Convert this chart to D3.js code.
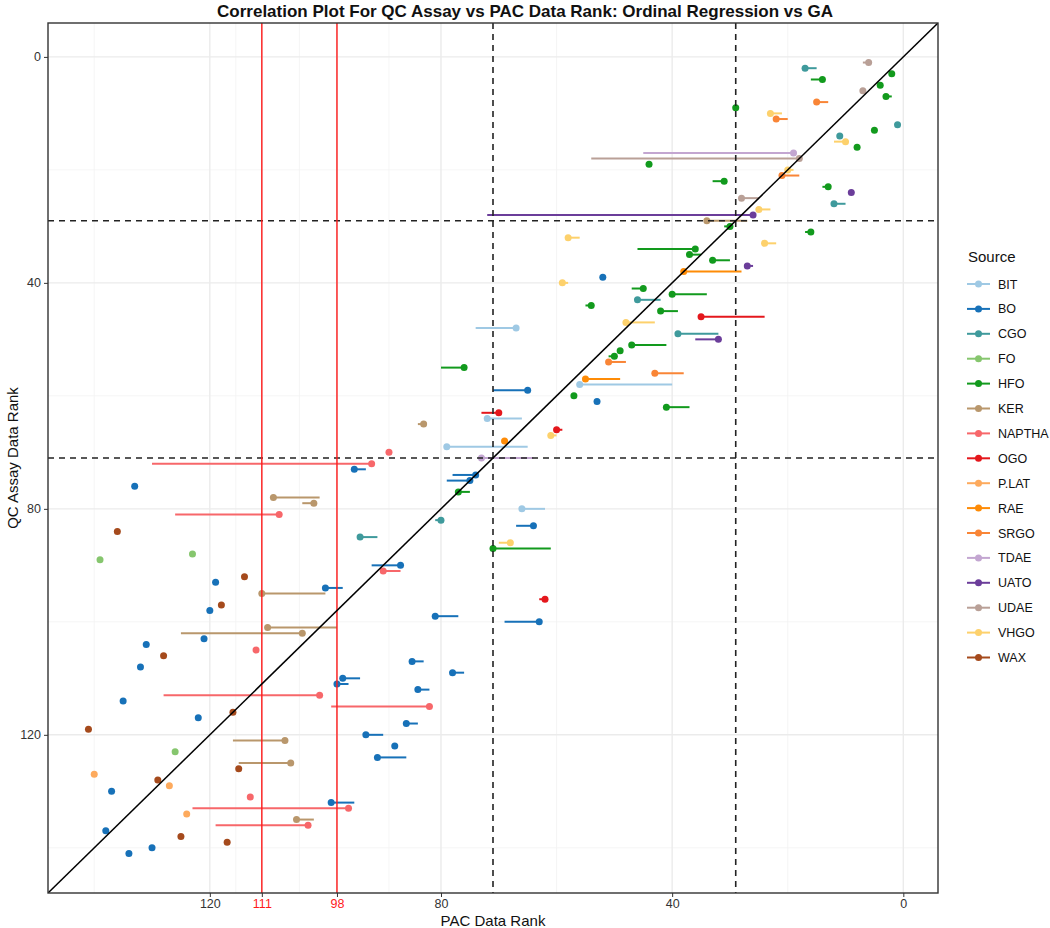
<!DOCTYPE html>
<html><head><meta charset="utf-8">
<script src="https://cdn.jsdelivr.net/npm/d3@7"></script>
<style>body{margin:0;background:#fff}svg{display:block}text{font-family:"Liberation Sans",Arial,sans-serif}</style>
</head><body><svg id="c" width="1050" height="928"></svg>
<script>
const sources = ["BIT","BO","CGO","FO","HFO","KER","NAPTHA","OGO","P.LAT","RAE","SRGO","TDAE","UATO","UDAE","VHGO","WAX"];
const sourceColors = ["#9fc9e4","#1771b8","#3f9a9c","#86c66e","#129a1d","#b9976c","#f7676a","#e4171c","#fdaa5d","#fe8b06","#f98536","#c3a6d1","#6b3d9a","#b9a097","#fdd16c","#a54a1c"];
// QC assay rank (y), PAC rank of the point (x), PAC rank at the other end of the segment
const qcRank   = [1,2,3,4,5,6,7,8,9,10,11,12,13,14,15,16,17,18,19,20,21,22,23,24,25,26,27,28,29,30,31,32,33,34,35,36,37,38,39,40,41,42,43,44,45,46,47,48,49,50,51,52,53,54,55,56,57,58,59,60,61,62,63,64,65,66,67,68,69,70,71,72,73,74,75,76,77,78,79,80,81,82,83,84,85,86,87,88,89,90,91,92,93,94,95,96,97,98,99,100,101,102,103,104,105,106,107,108,109,110,111,112,113,114,115,116,117,118,119,120,121,122,123,124,125,126,127,128,129,130,131,132,133,134,135,136,137,138,139,140,141];
const pointSource = ["UDAE","CGO","HFO","HFO","HFO","UDAE","HFO","SRGO","HFO","VHGO","SRGO","CGO","HFO","CGO","VHGO","HFO","TDAE","UDAE","HFO","VHGO","SRGO","HFO","HFO","UATO","UDAE","CGO","VHGO","UATO","KER","HFO","HFO","VHGO","VHGO","HFO","HFO","HFO","UATO","RAE","BO","VHGO","HFO","HFO","CGO","HFO","HFO","OGO","VHGO","BIT","CGO","UATO","HFO","HFO","HFO","SRGO","HFO","SRGO","RAE","BIT","BO","HFO","BO","HFO","OGO","BIT","KER","OGO","VHGO","RAE","BIT","NAPTHA","TDAE","NAPTHA","BO","BO","BO","BO","HFO","KER","KER","BIT","NAPTHA","CGO","BO","WAX","CGO","VHGO","HFO","FO","FO","BO","NAPTHA","WAX","BO","BO","KER","OGO","WAX","BO","BO","BO","KER","KER","BO","BO","NAPTHA","WAX","BO","BO","BO","BO","BO","BO","NAPTHA","BO","NAPTHA","WAX","BO","BO","WAX","BO","KER","BO","FO","BO","KER","WAX","P.LAT","WAX","P.LAT","BO","NAPTHA","BO","NAPTHA","P.LAT","KER","NAPTHA","BO","WAX","WAX","BO","BO"];
const pacRank  = [6,17,2,14,4,7,3,15,29,23,22,1,5,11,10,8,19,18,44,20,21,31,13,9,28,12,25,26,34,30,16,58,24,36,37,33,27,38,52,59,45,40,46,54,42,35,48,67,39,32,47,49,50,51,76,43,55,56,65,57,53,41,70,72,83,60,61,69,79,89,73,92,95,74,75,133,77,109,102,66,108,80,64,136,94,68,71,123,139,87,90,114,119,100,111,62,118,120,81,63,110,104,121,131,112,128,85,132,78,97,98,84,101,135,82,116,122,86,141,93,107,88,126,91,106,115,140,129,127,137,113,99,96,124,105,103,138,125,117,130,134];
const pacRankEnd = [7,15,2,16,4,7,2,13,29,21,20,1,5,11,12,8,45,54,44,19,18,33,14,9,25,10,23,72,27,31,17,56,22,46,35,30,26,28,52,58,47,34,42,55,39,24,43,74,32,36,41,49,51,48,80,38,49,40,71,57,53,37,73,66,84,59,60,69,65,89,64,130,93,78,79,133,75,101,104,62,126,81,67,136,91,70,61,123,139,92,87,114,119,97,100,63,118,120,77,69,98,125,121,131,112,128,83,132,76,94,96,82,128,135,99,116,122,84,141,90,116,88,126,86,115,115,140,129,127,137,113,95,123,124,102,119,138,125,117,130,134];
const xBreaks = [0,40,80,98,111,120];
const xMinor = [20,60,89,104.5,115.5,140];
const yBreaks = [0,40,80,120];
const yMinor = [20,60,100,140];
const redLines = [111,98];
const dashedLines = [29,71];
const title = "Correlation Plot For QC Assay vs PAC Data Rank: Ordinal Regression vs GA";

const svg = d3.select("#c");
const P = {l:48, r:938, t:23, b:893};
const x = d3.scaleLinear().domain([148,-6]).range([P.l,P.r]);
const y = d3.scaleLinear().domain([-6,148]).range([P.t,P.b]);
const color = d3.scaleOrdinal().domain(sources).range(sourceColors);

const data = qcRank.map((q,i)=>({q, s:pointSource[i], p:pacRank[i], e:pacRankEnd[i]}));

const g = svg.append("g");
svg.append("defs").append("clipPath").attr("id","pc").append("rect")
  .attr("x",P.l).attr("y",P.t).attr("width",P.r-P.l).attr("height",P.b-P.t);
// grid
g.selectAll(".gxm").data(xMinor).join("line").attr("x1",d=>x(d)).attr("x2",d=>x(d)).attr("y1",P.t).attr("y2",P.b).attr("stroke","#f2f2f2").attr("stroke-width",0.8);
g.selectAll(".gym").data(yMinor).join("line").attr("y1",d=>y(d)).attr("y2",d=>y(d)).attr("x1",P.l).attr("x2",P.r).attr("stroke","#f2f2f2").attr("stroke-width",0.8);
g.selectAll(".gx").data(xBreaks).join("line").attr("x1",d=>x(d)).attr("x2",d=>x(d)).attr("y1",P.t).attr("y2",P.b).attr("stroke","#ebebeb").attr("stroke-width",1.4);
g.selectAll(".gy").data(yBreaks).join("line").attr("y1",d=>y(d)).attr("y2",d=>y(d)).attr("x1",P.l).attr("x2",P.r).attr("stroke","#ebebeb").attr("stroke-width",1.4);

const pg = svg.append("g").attr("clip-path","url(#pc)");
pg.selectAll(".seg").data(data).join("line")
  .attr("x1",d=>x(d.p)).attr("x2",d=>x(d.e)).attr("y1",d=>y(d.q)).attr("y2",d=>y(d.q))
  .attr("stroke",d=>color(d.s)).attr("stroke-width",2);
pg.selectAll(".pt").data(data).join("circle")
  .attr("cx",d=>x(d.p)).attr("cy",d=>y(d.q)).attr("r",3.5).attr("fill",d=>color(d.s));

// reference lines
pg.selectAll(".dv").data(dashedLines).join("line").attr("x1",d=>x(d)).attr("x2",d=>x(d)).attr("y1",P.t).attr("y2",P.b)
  .attr("stroke","#222").attr("stroke-width",1.6).attr("stroke-dasharray","6,5");
pg.selectAll(".dh").data(dashedLines).join("line").attr("y1",d=>y(d)).attr("y2",d=>y(d)).attr("x1",P.l).attr("x2",P.r)
  .attr("stroke","#222").attr("stroke-width",1.6).attr("stroke-dasharray","6,5");
pg.selectAll(".rv").data(redLines).join("line").attr("x1",d=>x(d)).attr("x2",d=>x(d)).attr("y1",P.t).attr("y2",P.b)
  .attr("stroke","#ff1a1a").attr("stroke-width",1.4);
pg.append("line").attr("x1",x(148)).attr("y1",y(148)).attr("x2",x(-6)).attr("y2",y(-6)).attr("stroke","#000").attr("stroke-width",1.5);

// border
svg.append("rect").attr("x",P.l).attr("y",P.t).attr("width",P.r-P.l).attr("height",P.b-P.t).attr("fill","none").attr("stroke","#333").attr("stroke-width",1.4);

// axes
const xAxis = d3.axisBottom(x).tickValues(xBreaks).tickSize(4).tickPadding(2).tickFormat(d3.format("d"));
const xa = svg.append("g").attr("transform",`translate(0,${P.b})`).call(xAxis);
xa.select(".domain").remove();
xa.selectAll("line").attr("stroke","#333");
xa.selectAll("text").attr("font-size",12.5).attr("fill",d=>redLines.includes(d)?"#ff1a1a":"#333")
  .style("font-family","Liberation Sans, Arial, sans-serif");
const yAxis = d3.axisLeft(y).tickValues(yBreaks).tickSize(4).tickPadding(3);
const ya = svg.append("g").attr("transform",`translate(${P.l},0)`).call(yAxis);
ya.select(".domain").remove();
ya.selectAll("line").attr("stroke","#333");
ya.selectAll("text").attr("font-size",12.5).attr("fill","#333").style("font-family","Liberation Sans, Arial, sans-serif");

svg.append("text").attr("x",(P.l+P.r)/2).attr("y",926).attr("text-anchor","middle").attr("font-size",15).attr("fill","#111").text("PAC Data Rank");
svg.append("text").attr("transform",`translate(18,${(P.t+P.b)/2}) rotate(-90)`).attr("text-anchor","middle").attr("font-size",15).attr("fill","#111").text("QC Assay Data Rank");
svg.append("text").attr("x",525).attr("y",17).attr("text-anchor","middle").attr("font-size",17).attr("font-weight","bold").attr("fill","#111").text(title);

// legend
const lg = svg.append("g");
lg.append("text").attr("x",968).attr("y",262).attr("font-size",15).attr("fill","#111").text("Source");
const li = lg.selectAll(".li").data(sources).join("g").attr("transform",(d,i)=>`translate(0,${284+i*24.9})`);
li.append("line").attr("x1",967).attr("x2",990).attr("stroke",d=>color(d)).attr("stroke-width",2);
li.append("circle").attr("cx",978.5).attr("r",3.5).attr("fill",d=>color(d));
li.append("text").attr("x",998).attr("y",4.5).attr("font-size",12.5).attr("fill","#111").text(d=>d);
</script></body></html>
